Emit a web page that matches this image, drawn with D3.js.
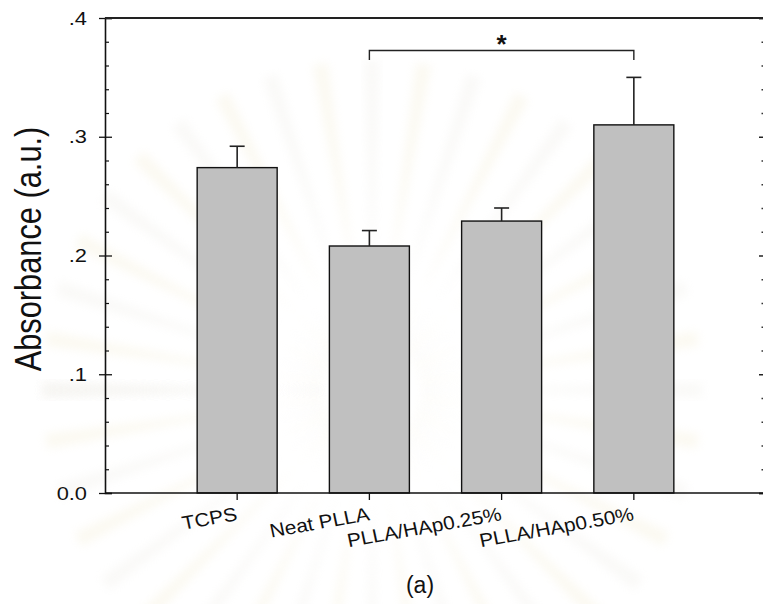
<!DOCTYPE html>
<html>
<head>
<meta charset="utf-8">
<script src="https://cdn.jsdelivr.net/npm/d3@7/dist/d3.min.js"></script>
<style>
  html, body { margin: 0; padding: 0; background: #fff; }
  svg { display: block; }
  text { font-family: "Liberation Sans", Arial, Helvetica, sans-serif; fill: #111; }
</style>
</head>
<body>
<svg id="chart" width="763" height="604"></svg>
<script>
// Absorbance per substrate, mean and standard deviation
const categories = ["TCPS", "Neat PLLA", "PLLA/HAp0.25%", "PLLA/HAp0.50%"];
const means = [0.274, 0.208, 0.229, 0.310];
const errors = [0.018, 0.013, 0.011, 0.040];

// Y axis ticks and their printed labels
const yTickValues = [0, 0.1, 0.2, 0.3, 0.4];
const yTickLabels = ["0.0", ".1", ".2", ".3", ".4"];

// Significance bracket between two groups
const sigPair = ["Neat PLLA", "PLLA/HAp0.50%"];
const sigLabel = "*";

const yTitle = "Absorbance (a.u.)";
const panelLabel = "(a)";

(function draw() {
const svg = d3.select("#chart");
const W = 763, H = 604;
const plotL = 105, plotR = 764, plotT = 18, plotB = 493;
const sx = 1.15; // horizontal glyph stretch of the figure text

// Faint ray emblem in the background
const bg = svg.append("g").attr("class", "watermark");
const defs = svg.append("defs");
defs.append("filter").attr("id", "soft")
  .attr("x", "-20%").attr("y", "-20%").attr("width", "140%").attr("height", "140%")
  .append("feGaussianBlur").attr("stdDeviation", 5);
const cx0 = 372, cy0 = 390;
const rays = d3.range(-180, 181, 9);
bg.selectAll("path.ray").data(rays).join("path")
  .attr("class", "ray")
  .attr("d", a => {
    const r0 = 50, r1 = 330, hw = 2.2;
    const p = (ang, r) => [cx0 + r * Math.cos(ang * Math.PI / 180), cy0 + r * Math.sin(ang * Math.PI / 180)];
    const [x1, y1] = p(a - hw, r0), [x2, y2] = p(a + hw, r0);
    const [x3, y3] = p(a + hw * 0.6, r1), [x4, y4] = p(a - hw * 0.6, r1);
    return `M${x1},${y1}L${x3},${y3}L${x4},${y4}L${x2},${y2}Z`;
  })
  .attr("fill", (a, i) => i % 2 ? "#f3ecd2" : "#eeece6")
  .attr("opacity", 0.3)
  .attr("filter", "url(#soft)");

// Scales
const x = d3.scaleBand()
  .domain(categories)
  .range([plotL, 766])
  .paddingInner(0.395)
  .paddingOuter(0.697);

const y = d3.scaleLinear().domain([0, 0.4]).range([plotB, plotT]);

const minorTicks = d3.range(1, 20).map(i => i * 0.02).filter(v => Math.abs(v * 10 - Math.round(v * 10)) > 1e-6);

// Bars
const data = categories.map((c, i) => ({ c, m: means[i], e: errors[i] }));
svg.append("g").selectAll("rect").data(data).join("rect")
  .attr("x", d => x(d.c))
  .attr("y", d => y(d.m))
  .attr("width", x.bandwidth())
  .attr("height", d => y(0) - y(d.m))
  .attr("fill", "#c0c0c0")
  .attr("stroke", "#111")
  .attr("stroke-width", 1.4);

// Error bars (upper only)
const eb = svg.append("g").attr("stroke", "#222").attr("stroke-width", 1.6);
eb.selectAll("line.v").data(data).join("line").attr("class", "v")
  .attr("x1", d => x(d.c) + x.bandwidth() / 2).attr("x2", d => x(d.c) + x.bandwidth() / 2)
  .attr("y1", d => y(d.m)).attr("y2", d => y(d.m + d.e));
eb.selectAll("line.cap").data(data).join("line").attr("class", "cap")
  .attr("x1", d => x(d.c) + x.bandwidth() / 2 - 7.5).attr("x2", d => x(d.c) + x.bandwidth() / 2 + 7.5)
  .attr("y1", d => y(d.m + d.e)).attr("y2", d => y(d.m + d.e));

// Left axis: outward major ticks with labels
const yAxisOut = svg.append("g").attr("transform", `translate(${plotL},0)`)
  .call(d3.axisLeft(y).tickValues(yTickValues).tickSize(6).tickPadding(12)
    .tickFormat((d, i) => yTickLabels[i]));
yAxisOut.attr("font-family", null).attr("font-size", null);
yAxisOut.select(".domain").remove();
yAxisOut.selectAll("line").attr("stroke", "#111").attr("stroke-width", 1.3);
yAxisOut.selectAll("text")
  .attr("font-size", 19)
  .attr("fill", "#111")
  .attr("transform", function () {
    const xx = +d3.select(this).attr("x");
    return `translate(${xx},0) scale(${sx},1) translate(${-xx},0)`;
  });

// Left axis: inward major and minor ticks, spine
const yAxisIn = svg.append("g").attr("transform", `translate(${plotL},0)`)
  .call(d3.axisRight(y).tickValues(yTickValues).tickSize(7).tickFormat(""));
yAxisIn.select(".domain").attr("stroke", "#111").attr("stroke-width", 1.6);
yAxisIn.selectAll("line").attr("stroke", "#111").attr("stroke-width", 1.3);
const yMinorIn = svg.append("g").attr("transform", `translate(${plotL},0)`)
  .call(d3.axisRight(y).tickValues(minorTicks).tickSize(4).tickFormat(""));
yMinorIn.select(".domain").remove();
yMinorIn.selectAll("line").attr("stroke", "#111").attr("stroke-width", 1.2);

// Right axis: inward ticks only
const yRight = svg.append("g").attr("transform", `translate(${plotR},0)`)
  .call(d3.axisLeft(y).tickValues(yTickValues).tickSize(5).tickFormat(""));
yRight.select(".domain").attr("stroke", "#222").attr("stroke-width", 1.5);
yRight.selectAll("line").attr("stroke", "#222").attr("stroke-width", 1.5);
const yRightMinor = svg.append("g").attr("transform", `translate(${plotR},0)`)
  .call(d3.axisLeft(y).tickValues(minorTicks).tickSize(2.5).tickFormat(""));
yRightMinor.select(".domain").remove();
yRightMinor.selectAll("line").attr("stroke", "#333").attr("stroke-width", 1.3);

// Top frame line
svg.append("line")
  .attr("x1", plotL).attr("x2", W).attr("y1", y(0.4)).attr("y2", y(0.4))
  .attr("stroke", "#222").attr("stroke-width", 2);

// Bottom axis
const xAxis = svg.append("g").attr("transform", `translate(0,${plotB})`)
  .call(d3.axisBottom(x).tickSize(7).tickFormat(""));
xAxis.select(".domain").attr("d", `M${plotL},0H${W}`).attr("stroke", "#111").attr("stroke-width", 1.6);
xAxis.selectAll("line").attr("stroke", "#111").attr("stroke-width", 1.3);

// Slanted category labels
svg.append("g").selectAll("text").data(categories).join("text")
  .attr("text-anchor", "end")
  .attr("font-size", 19)
  .attr("transform", d => `translate(${x(d) + x.bandwidth() / 2 + 1},${plotB + 27}) scale(1.1,1) rotate(-11)`)
  .text(d => d);

// Significance bracket
const xa = x(sigPair[0]) + x.bandwidth() / 2;
const xb = x(sigPair[1]) + x.bandwidth() / 2;
const yBr = y(0.3726), yTip = y(0.3646);
svg.append("path")
  .attr("d", `M${xa},${yTip}V${yBr}H${xb}V${yTip}`)
  .attr("fill", "none").attr("stroke", "#222").attr("stroke-width", 1.4);
svg.append("text")
  .attr("x", (xa + xb) / 2).attr("y", yBr + 2)
  .attr("text-anchor", "middle")
  .attr("font-size", 26).attr("font-weight", "bold")
  .text(sigLabel);

// Y title
svg.append("text")
  .attr("transform", `translate(41,${(118 + 380) / 2}) scale(1.2,1) rotate(-90)`)
  .attr("text-anchor", "middle")
  .attr("font-size", 30.8)
  .text(yTitle);

// Panel label
svg.append("text")
  .attr("x", 420).attr("y", 593)
  .attr("text-anchor", "middle")
  .attr("font-size", 23)
  .text(panelLabel);
})();
</script>
</body>
</html>
